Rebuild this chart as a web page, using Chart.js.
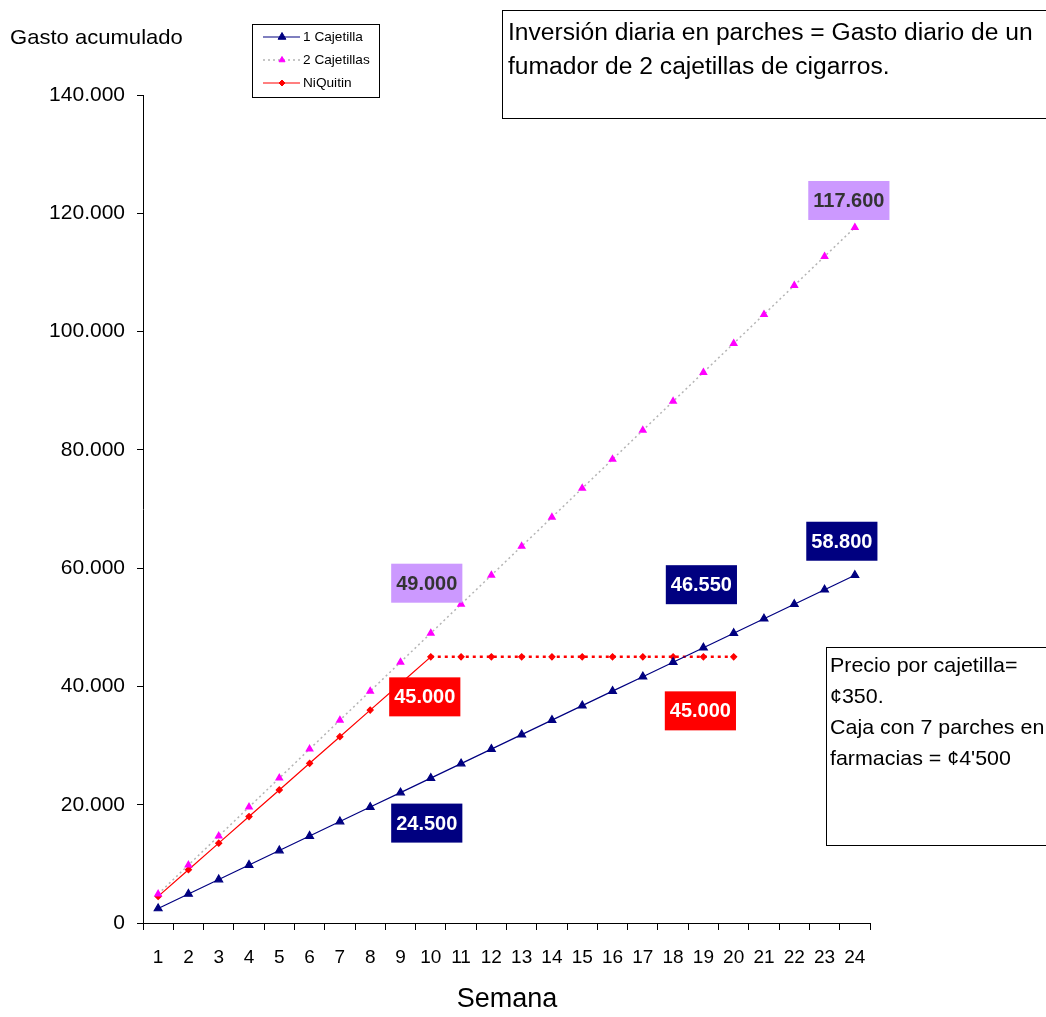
<!DOCTYPE html>
<html>
<head>
<meta charset="utf-8">
<script src="https://cdn.jsdelivr.net/npm/chart.js@4/dist/chart.umd.min.js"></script>
<style>
  body { margin: 0; background: #fff; }
  #wrap { width: 1046px; height: 1017px; }
</style>
</head>
<body>
<div id="wrap"><canvas id="myChart" width="1046" height="1017"></canvas></div>
<script>
var semanas = ['1','2','3','4','5','6','7','8','9','10','11','12','13','14','15','16','17','18','19','20','21','22','23','24'];
var unaCajetilla = [2450, 4900, 7350, 9800, 12250, 14700, 17150, 19600, 22050, 24500, 26950, 29400,
                    31850, 34300, 36750, 39200, 41650, 44100, 46550, 49000, 51450, 53900, 56350, 58800];
var dosCajetillas = [4900, 9800, 14700, 19600, 24500, 29400, 34300, 39200, 44100, 49000, 53900, 58800,
                     63700, 68600, 73500, 78400, 83300, 88200, 93100, 98000, 102900, 107800, 112700, 117600];
var niquitin = [4500, 9000, 13500, 18000, 22500, 27000, 31500, 36000, 40500, 45000, 45000, 45000,
                45000, 45000, 45000, 45000, 45000, 45000, 45000, 45000, null, null, null, null];
var yTicks = [0, 20000, 40000, 60000, 80000, 100000, 120000, 140000];

// etiquetas de valor: serie, semana (indice), texto, colores, desplazamiento
var etiquetas = [
    { ds: 1, i: 9,  text: '49.000',  bg: '#cc99ff', fg: '#333333', dx: -4,  dy: -50 },
    { ds: 1, i: 23, text: '117.600', bg: '#cc99ff', fg: '#333333', dx: -6,  dy: -27 },
    { ds: 0, i: 23, text: '58.800',  bg: '#000080', fg: '#ffffff', dx: -13, dy: -34 },
    { ds: 0, i: 18, text: '46.550',  bg: '#000080', fg: '#ffffff', dx: -2,  dy: -63 },
    { ds: 0, i: 9,  text: '24.500',  bg: '#000080', fg: '#ffffff', dx: -4,  dy: 45 },
    { ds: 2, i: 9,  text: '45.000',  bg: '#ff0000', fg: '#ffffff', dx: -6,  dy: 40 },
    { ds: 2, i: 18, text: '45.000',  bg: '#ff0000', fg: '#ffffff', dx: -3,  dy: 54 }
];

var FONT = '"Liberation Sans", Arial, sans-serif';

function fmt(v) {
    if (v === 0) return '0';
    return String(v).replace(/\B(?=(\d{3})+(?!\d))/g, '.');
}

// texto algo ensanchado, como en el original
function wideText(c, t, x, y, sx) {
    c.save();
    c.translate(x, y);
    c.scale(sx, 1);
    c.fillText(t, 0, 0);
    c.restore();
}

var extras = {
    id: 'extras',
    afterDatasetsDraw: function(chart) {
        var c = chart.ctx;
        c.save();
        // value labels
        c.font = 'bold 20px ' + FONT;
        c.textAlign = 'center';
        c.textBaseline = 'middle';
        etiquetas.forEach(function(e) {
            var pt = chart.getDatasetMeta(e.ds).data[e.i];
            var x = pt.x + e.dx, y = pt.y + e.dy;
            var w = c.measureText(e.text).width + 10, h = 39;
            c.fillStyle = e.bg;
            c.fillRect(x - w / 2, y - h / 2, w, h);
            c.fillStyle = e.fg;
            c.fillText(e.text, x, y + 1);
        });

        // axis titles
        c.fillStyle = '#000';
        c.textAlign = 'left';
        c.font = '21px ' + FONT;
        wideText(c, 'Gasto acumulado', 10, 38, 1.05);
        c.textAlign = 'center';
        c.font = '27px ' + FONT;
        c.fillText('Semana', 507, 1000);

        // top note
        c.strokeStyle = '#000';
        c.lineWidth = 1;
        c.strokeRect(502.5, 10.5, 560, 108);
        c.textAlign = 'left';
        c.font = '23px ' + FONT;
        wideText(c, 'Inversión diaria en parches = Gasto diario de un', 508, 34, 1.07);
        wideText(c, 'fumador de 2 cajetillas de cigarros.', 508, 68, 1.07);

        // right note
        c.strokeRect(826.5, 647.5, 240, 198);
        c.font = '21px ' + FONT;
        ['Precio por cajetilla=', '\u00a2350.', 'Caja con 7 parches en', 'farmacias = \u00a24\'500'].forEach(function(t, k) {
            wideText(c, t, 830, 666 + k * 31, 1.02);
        });

        // legend
        c.strokeRect(252.5, 24.5, 127, 73);
        c.font = '13px ' + FONT;
        c.textBaseline = 'middle';
        chart.data.datasets.forEach(function(ds, k) {
            var y = 37 + k * 23;
            c.save();
            c.strokeStyle = ds.borderColor;
            c.lineWidth = ds.borderWidth;
            c.setLineDash(ds.borderDash || []);
            c.beginPath();
            c.moveTo(263, y);
            c.lineTo(300, y);
            c.stroke();
            c.restore();
            c.fillStyle = ds.pointBackgroundColor;
            c.strokeStyle = ds.pointBorderColor;
            Chart.helpers.drawPoint(c, {
                pointStyle: ds.pointStyle, radius: ds.pointRadius, borderWidth: 1
            }, 282, y);
            c.fillStyle = '#000';
            wideText(c, ds.label, 303, y, 1.05);
        });
        c.restore();
    }
};

var ctx = document.getElementById('myChart').getContext('2d');
var myChart = new Chart(ctx, {
    type: 'line',
    data: {
        labels: semanas,
        datasets: [{
            label: '1 Cajetilla',
            data: unaCajetilla,
            borderColor: '#000080',
            borderWidth: 1.2,
            pointStyle: 'triangle',
            pointRadius: 4.5,
            pointBackgroundColor: '#000080',
            pointBorderColor: '#000080',
            tension: 0
        }, {
            label: '2 Cajetillas',
            data: dosCajetillas,
            borderColor: '#b4b4b4',
            borderWidth: 1.5,
            borderDash: [2, 3],
            pointStyle: 'triangle',
            pointRadius: 3.5,
            pointBackgroundColor: '#ff00ff',
            pointBorderColor: '#ff00ff',
            tension: 0
        }, {
            label: 'NiQuitin',
            data: niquitin,
            borderColor: '#ff0000',
            borderWidth: 1.2,
            pointStyle: 'rectRot',
            pointRadius: 3,
            pointBackgroundColor: '#ff0000',
            pointBorderColor: '#ff0000',
            spanGaps: false,
            tension: 0,
            segment: {
                borderDash: function(s) { return s.p0DataIndex >= 9 ? [3, 4] : undefined; },
                borderWidth: function(s) { return s.p0DataIndex >= 9 ? 2.5 : undefined; }
            }
        }]
    },
    options: {
        responsive: false,
        animation: false,
        layout: { padding: { left: 0, top: 95, right: 176, bottom: 0 } },
        plugins: {
            legend: { display: false },
            tooltip: { enabled: false }
        },
        scales: {
            x: {
                offset: true,
                afterFit: function(s) { s.height = 94; },
                grid: { drawOnChartArea: false, drawTicks: true, tickLength: 7, color: '#000', offset: true },
                border: { display: true, color: '#000', width: 1 },
                ticks: { color: '#000', font: { family: FONT, size: 19 }, padding: 16, maxRotation: 0, autoSkip: false }
            },
            y: {
                min: 0,
                max: 140000,
                afterFit: function(s) { s.width = 143; },
                afterBuildTicks: function(s) { s.ticks = yTicks.map(function(v) { return { value: v }; }); },
                grid: { drawOnChartArea: false, drawTicks: true, tickLength: 6, color: '#000' },
                border: { display: true, color: '#000', width: 1 },
                ticks: { color: '#000', font: { family: FONT, size: 21 }, padding: 12, callback: function(v) { return fmt(v); } }
            }
        }
    },
    plugins: [extras]
});
</script>
</body>
</html>
